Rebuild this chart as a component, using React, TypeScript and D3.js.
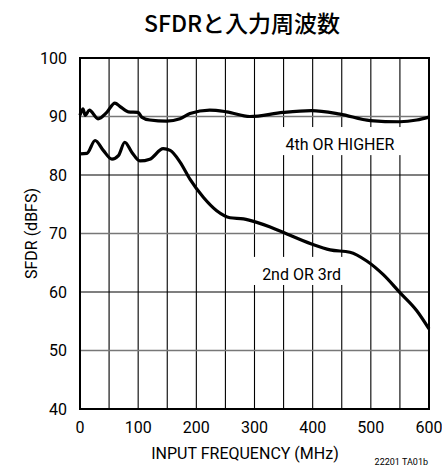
import * as d3 from "d3";

// SFDR vs input frequency
const higherFreq = [0, 5, 9, 16, 31, 46, 60, 69, 83, 100, 106, 120, 149, 172, 189, 223, 252, 292, 349, 398, 447, 499, 550, 579, 600];
const higherSfdr = [90.2, 91.3, 90.2, 91.1, 89.6, 90.7, 92.3, 91.7, 90.8, 90.7, 89.9, 89.4, 89.2, 89.6, 90.5, 91.1, 90.8, 90.0, 90.7, 91.0, 90.4, 89.3, 89.1, 89.4, 89.9];

const lowFreq = [0, 12, 26, 40, 55, 66, 77, 89, 103, 120, 143, 155, 172, 189, 212, 235, 258, 281, 304, 327, 349, 398, 430, 464, 493, 521, 550, 579, 600];
const lowSfdr = [83.6, 83.7, 85.9, 84.2, 82.7, 83.3, 85.6, 83.9, 82.4, 82.7, 84.5, 84.2, 82.2, 79.3, 76.2, 73.9, 72.7, 72.5, 71.9, 71.1, 70.2, 68.2, 67.2, 66.8, 65.3, 63.0, 59.9, 56.8, 53.7];

const xTicks = [0, 100, 200, 300, 400, 500, 600];
const xGrid = [50, 100, 150, 200, 250, 300, 350, 400, 450, 500, 550];
const yTicks = [40, 50, 60, 70, 80, 90, 100];
const yGrid = [50, 60, 70, 80, 90];

const W = 442, H = 468;
const m = { left: 80, right: 13, top: 58, bottom: 59 };
const cond = "Roboto, 'Liberation Sans', sans-serif";

export default function App() {
  const x = d3.scaleLinear().domain([0, 600]).range([m.left, W - m.right]);
  const y = d3.scaleLinear().domain([40, 100]).range([H - m.bottom, m.top]);
  const line = d3.line<number>().curve(d3.curveMonotoneX);

  const higher = line(higherFreq.map((f, i) => [x(f), y(higherSfdr[i])]) as any);
  const low = line(lowFreq.map((f, i) => [x(f), y(lowSfdr[i])]) as any);

  return (
    <svg width={W} height={H} style={{ position: "absolute", left: 0, top: 0, background: "#fff" }}>
      <text x={242} y={32} textAnchor="middle" fontSize={23} fontWeight={500}
        fontFamily="'Noto Sans CJK JP', 'Noto Sans', sans-serif">SFDRと入力周波数</text>

      {xGrid.map(v => (
        <line key={"xg" + v} x1={x(v)} x2={x(v)} y1={y(100)} y2={y(40)} stroke="#000" strokeWidth={1.1} />
      ))}
      {yGrid.map(v => (
        <line key={"yg" + v} x1={x(0)} x2={x(600)} y1={y(v)} y2={y(v)}
          stroke={v % 20 === 0 ? "#000" : "#777"} strokeWidth={v % 20 === 0 ? 1.1 : 1.6} />
      ))}

      {/* label boxes hide the grid */}
      <rect x={x(344)} y={y(88.2)} width={x(553) - x(344)} height={y(83.4) - y(88.2)} fill="#fff" />
      <rect x={x(296)} y={y(66)} width={x(456) - x(296)} height={y(61.2) - y(66)} fill="#fff" />
      <text x={x(447)} y={y(84.3)} textAnchor="middle" fontSize={16} fontFamily={cond}>4th OR HIGHER</text>
      <text x={x(381)} y={y(62.1)} textAnchor="middle" fontSize={16} fontFamily={cond}>2nd OR 3rd</text>

      <path d={higher ?? ""} fill="none" stroke="#000" strokeWidth={3.2} strokeLinejoin="round" />
      <path d={low ?? ""} fill="none" stroke="#000" strokeWidth={3.2} strokeLinejoin="round" />

      <rect x={x(0)} y={y(100)} width={x(600) - x(0)} height={y(40) - y(100)} fill="none" stroke="#000" strokeWidth={2} />

      {yTicks.map(v => (
        <text key={"yt" + v} x={x(0) - 13} y={y(v) + 5.5} textAnchor="end" fontSize={16} fontFamily={cond}>{v}</text>
      ))}
      {xTicks.map(v => (
        <text key={"xt" + v} x={x(v)} y={y(40) + 24} textAnchor="middle" fontSize={16} fontFamily={cond}>{v}</text>
      ))}

      <text x={245} y={459} textAnchor="middle" fontSize={16} fontFamily={cond}>INPUT FREQUENCY (MHz)</text>
      <text transform={`translate(37,${y(70)}) rotate(-90)`} textAnchor="middle" fontSize={16} fontFamily={cond}>SFDR (dBFS)</text>
      <text x={428} y={465} textAnchor="end" fontSize={9} fontFamily={cond}>22201 TA01b</text>
    </svg>
  );
}
